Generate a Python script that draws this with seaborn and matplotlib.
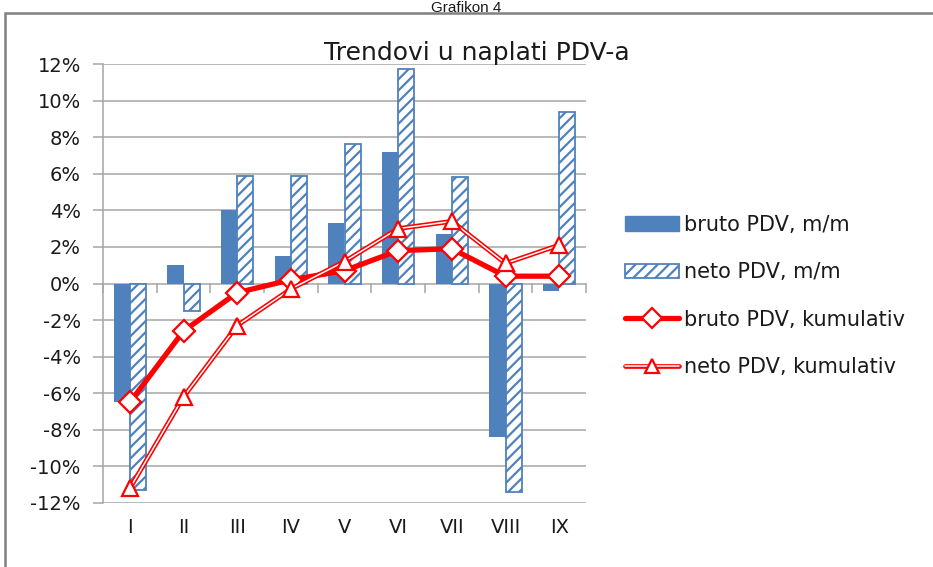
import numpy as np
import pandas as pd
import matplotlib
matplotlib.use("Agg")
import matplotlib.pyplot as plt
import seaborn as sns
from matplotlib.patches import Patch, Rectangle
from matplotlib.lines import Line2D
from matplotlib.legend_handler import HandlerTuple
import matplotlib.ticker as mticker

# ---- data ----
months = ["I", "II", "III", "IV", "V", "VI", "VII", "VIII", "IX"]
bruto_mm = [-6.5, 1.0, 4.0, 1.5, 3.3, 7.2, 2.7, -8.4, -0.4]
neto_mm = [-11.3, -1.5, 5.9, 5.9, 7.6, 11.7, 5.8, -11.4, 9.4]
bruto_kum = [-6.5, -2.6, -0.5, 0.2, 0.7, 1.8, 1.9, 0.4, 0.4]
neto_kum = [-11.2, -6.2, -2.3, -0.3, 1.2, 3.0, 3.4, 1.1, 2.1]
y_ticks = list(range(-12, 13, 2))
series_labels = ["bruto PDV, m/m", "neto PDV, m/m",
                 "bruto PDV, kumulativ", "neto PDV, kumulativ"]
title = "Trendovi u naplati PDV-a"
super_title = "Grafikon 4"

BLUE = "#4F81BD"
RED = "#FF0000"
GRID = "#A6A6A6"
TXT = "#1A1A1A"

sns.set_theme(style="white")
plt.rcParams["font.family"] = ["DejaVu Sans"]
plt.rcParams["hatch.color"] = BLUE
plt.rcParams["hatch.linewidth"] = 1.6

fig = plt.figure(figsize=(9.33, 5.67), dpi=100)
W, H = 933, 567
ax = fig.add_axes([103 / W, 1 - 503 / H, (586 - 103) / W, (503 - 64) / H])

df = pd.DataFrame({
    "mjesec": months * 2,
    "vrijednost": bruto_mm + neto_mm,
    "serija": [series_labels[0]] * len(months) + [series_labels[1]] * len(months),
})
sns.barplot(data=df, x="mjesec", y="vrijednost", hue="serija", order=months,
            hue_order=series_labels[:2], palette=[BLUE, BLUE], width=0.6,
            saturation=1, legend=False, ax=ax, zorder=2, linewidth=0)

for p in ax.containers[1]:
    p.set_facecolor("white")
    p.set_edgecolor(BLUE)
    p.set_linewidth(1.3)
    p.set_hatch("///")

xpos = np.arange(len(months))
# bruto kumulativ
sns.lineplot(x=xpos, y=bruto_kum, ax=ax, color=RED, linewidth=3.8, sort=False,
             marker="D", markersize=11, markerfacecolor="white",
             markeredgecolor=RED, markeredgewidth=1.6, zorder=4)
# neto kumulativ (double line)
sns.lineplot(x=xpos, y=neto_kum, ax=ax, color=RED, linewidth=3.4, sort=False, zorder=5)
sns.lineplot(x=xpos, y=neto_kum, ax=ax, color="white", linewidth=1.1, sort=False, zorder=6)
sns.lineplot(x=xpos, y=neto_kum, ax=ax, color=RED, linestyle="none", sort=False,
             marker="^", markersize=11, markerfacecolor="white",
             markeredgecolor=RED, markeredgewidth=1.6, zorder=7)

ax.set_xlim(-0.5, len(months) - 0.5)
ax.set_ylim(-12, 12)
ax.set_yticks(y_ticks)
ax.yaxis.set_major_formatter(mticker.FuncFormatter(lambda v, _: f"{v:.0f}%"))
ax.yaxis.grid(True, color=GRID, linewidth=1.1, zorder=0)
ax.xaxis.grid(False)
ax.set_axisbelow(True)
for s in ["top", "right", "bottom"]:
    ax.spines[s].set_visible(False)
ax.spines["left"].set_color(GRID)
ax.spines["left"].set_linewidth(1.1)
ax.tick_params(axis="y", left=True, length=7, width=1.1, color=GRID,
               labelsize=14, labelcolor=TXT, pad=9)
ax.tick_params(axis="x", bottom=False, length=0, labelsize=14,
               labelcolor=TXT, pad=11)
ax.set_xlabel("")
ax.set_ylabel("")

# category tick marks on the zero line
sec = ax.secondary_xaxis(0.5)
sec.set_xticks(np.arange(len(months) + 1) - 0.5)
sec.set_xticklabels([])
sec.tick_params(axis="x", length=7, width=1.1, color=GRID, direction="in")
for s in sec.spines.values():
    s.set_visible(False)

# legend
h_bruto_mm = Patch(facecolor=BLUE, edgecolor=BLUE)
h_neto_mm = Patch(facecolor="white", edgecolor=BLUE, hatch="///", linewidth=1.3)
h_bruto_k = Line2D([], [], color=RED, linewidth=3.8, marker="D", markersize=10,
                   markerfacecolor="white", markeredgecolor=RED, markeredgewidth=1.6)
h_neto_k = (Line2D([], [], color=RED, linewidth=3.4),
            Line2D([], [], color="white", linewidth=1.1),
            Line2D([], [], color=RED, linestyle="none", marker="^", markersize=10,
                   markerfacecolor="white", markeredgecolor=RED, markeredgewidth=1.6))
fig.legend([h_bruto_mm, h_neto_mm, h_bruto_k, h_neto_k], series_labels,
           handler_map={tuple: HandlerTuple(ndivide=1, pad=0)},
           loc="upper left", bbox_to_anchor=(625 / W, 1 - 215 / H),
           frameon=False, fontsize=15, handlelength=2.6, handletextpad=0.25,
           labelspacing=1.31, borderpad=0, borderaxespad=0, labelcolor=TXT)

fig.text(477 / W, 1 - 53 / H, title, ha="center", va="center", fontsize=18, color=TXT)
fig.text(466 / W, 1 - 1 / H, super_title, ha="center", va="top",
         fontsize=11, color=TXT, family=["Liberation Sans", "DejaVu Sans"])

fig.add_artist(Rectangle((5 / W, -0.05), 1.0, (1 - 13 / H) + 0.05,
                         transform=fig.transFigure, fill=False,
                         edgecolor="#808080", linewidth=1.8))

fig.savefig("out.png", dpi=100)
